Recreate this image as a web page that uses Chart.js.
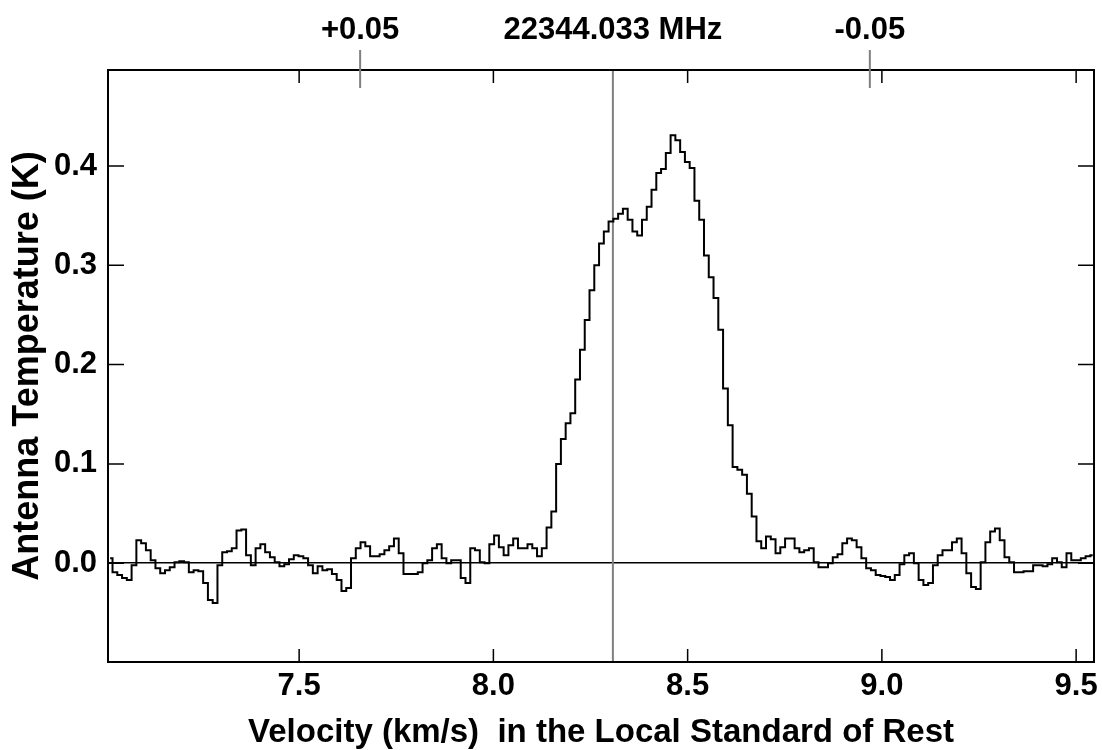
<!DOCTYPE html>
<html>
<head>
<meta charset="utf-8">
<title>Spectrum 22344.033 MHz</title>
<script src="https://cdn.jsdelivr.net/npm/chart.js@4.4.1/dist/chart.umd.min.js"></script>
<style>
  html, body { margin: 0; padding: 0; background: #fff; }
  #wrap { width: 1102px; height: 750px; }
</style>
</head>
<body>
<div id="wrap"><canvas id="spectrum" width="1102" height="750"></canvas></div>
<script>
// channel grid of the spectrum (km/s, LSR)
const velocityStart = 7.0135;
const channelWidth = 0.012278;

// antenna temperature per channel (K)
const antennaTemp = [
   0.005, -0.009, -0.012, -0.015, -0.017, -0.002,  0.023,  0.020,  0.013,  0.003,
  -0.005, -0.010, -0.007, -0.004,  0.001,  0.002,  0.001, -0.009, -0.007, -0.008,
  -0.020, -0.037, -0.040, -0.002,  0.011,  0.012,  0.015,  0.033,  0.034,  0.008,
  -0.002,  0.015,  0.019,  0.011,  0.006,  0.001, -0.003, -0.001,  0.004,  0.008,
   0.007,  0.005, -0.002, -0.010, -0.003, -0.007, -0.006, -0.011, -0.017, -0.028,
  -0.025,  0.005,  0.015,  0.021,  0.017,  0.007,  0.007,  0.009,  0.013,  0.017,
   0.025,  0.010, -0.011, -0.011, -0.011, -0.009,  0.000,  0.003,  0.015,  0.019,
   0.005,  0.000,  0.003,  0.003, -0.015, -0.020,  0.015,  0.013,  0.001,  0.000,
   0.019,  0.028,  0.016,  0.008,  0.018,  0.025,  0.015,  0.015,  0.019,  0.015,
   0.007,  0.015,  0.036,  0.052,  0.100,  0.125,  0.141,  0.151,  0.185,  0.215,
   0.245,  0.275,  0.300,  0.322,  0.334,  0.344,  0.347,  0.352,  0.357,  0.346,
   0.334,  0.330,  0.346,  0.359,  0.376,  0.393,  0.397,  0.413,  0.431,  0.426,
   0.414,  0.404,  0.398,  0.365,  0.346,  0.310,  0.288,  0.267,  0.235,  0.176,
   0.139,  0.097,  0.094,  0.089,  0.070,  0.047,  0.022,  0.015,  0.027,  0.024,
   0.010,  0.016,  0.025,  0.025,  0.015,  0.011,  0.013,  0.015,  0.001, -0.004,
  -0.004,  0.000,  0.006,  0.009,  0.020,  0.025,  0.023,  0.016,  0.005, -0.005,
  -0.007, -0.012, -0.013, -0.014, -0.017, -0.012, -0.001,  0.008,  0.010,  0.000,
  -0.017, -0.022, -0.020, -0.002,  0.008,  0.013,  0.013,  0.021,  0.025,  0.010,
  -0.010, -0.024, -0.026,  0.001,  0.021,  0.032,  0.035,  0.023,  0.006,  0.001,
  -0.009, -0.009, -0.008, -0.008, -0.002, -0.002, -0.003, -0.001,  0.005,  0.001,
  -0.004,  0.010,  0.003,  0.003,  0.005,  0.007,  0.008
];

const velocityTicks = [7.5, 8.0, 8.5, 9.0, 9.5];
const tempTicks = [0.0, 0.1, 0.2, 0.3, 0.4];

// top axis: frequency offsets (MHz) around the rest frequency
const freqTickVelocities = [7.657, 8.3076, 8.969];
const freqTickLabels = ['+0.05', '22344.033 MHz', '-0.05'];
const restVelocity = 8.3076;

const velMin = 7.008, velMax = 9.546;
const tempMin = -0.0995, tempMax = 0.4967;

const fontFamily = "'Liberation Sans', Arial, Helvetica, sans-serif";
const grey = '#808080';

const points = antennaTemp.map((t, i) => ({ x: velocityStart + i * channelWidth, y: t }));

// frame, inward ticks, rest-frequency marker
const framePlugin = {
  id: 'frame',
  beforeDatasetsDraw(chart) {
    const { ctx, chartArea: a, scales } = chart;
    const px = scales.x.getPixelForValue(restVelocity);
    ctx.save();
    ctx.strokeStyle = grey;
    ctx.lineWidth = 2;
    ctx.beginPath();
    ctx.moveTo(px, a.top);
    ctx.lineTo(px, a.bottom);
    ctx.stroke();
    ctx.restore();
  },
  afterDraw(chart) {
    const { ctx, chartArea: a, scales } = chart;
    ctx.save();
    ctx.strokeStyle = '#000';
    ctx.lineWidth = 2;
    ctx.strokeRect(a.left, a.top, a.right - a.left, a.bottom - a.top);

    ctx.lineWidth = 1.5;
    ctx.beginPath();
    velocityTicks.forEach(v => {
      const px = scales.x.getPixelForValue(v);
      ctx.moveTo(px, a.bottom); ctx.lineTo(px, a.bottom - 13);
      ctx.moveTo(px, a.top);    ctx.lineTo(px, a.top + 13);
    });
    tempTicks.forEach(t => {
      const py = scales.y.getPixelForValue(t);
      ctx.moveTo(a.left, py);  ctx.lineTo(a.left + 16, py);
      ctx.moveTo(a.right, py); ctx.lineTo(a.right - 16, py);
    });
    ctx.stroke();

    // +/-0.05 MHz marks cross the top axis
    ctx.strokeStyle = grey;
    ctx.lineWidth = 2;
    ctx.beginPath();
    freqTickVelocities.forEach(v => {
      if (v === restVelocity) return;
      const px = scales.x2.getPixelForValue(v);
      ctx.moveTo(px, a.top - 20); ctx.lineTo(px, a.top + 18);
    });
    ctx.stroke();
    ctx.restore();
  }
};

new Chart(document.getElementById('spectrum').getContext('2d'), {
  type: 'line',
  data: {
    datasets: [{
      data: points,
      stepped: 'middle',
      borderColor: '#000',
      borderWidth: 2,
      pointRadius: 0,
      fill: false,
    }]
  },
  options: {
    responsive: false,
    animation: false,
    layout: { padding: { left: 0, right: 8, top: 0, bottom: 0 } },
    plugins: {
      legend: { display: false },
      tooltip: { enabled: false }
    },
    scales: {
      x: {
        type: 'linear',
        position: 'bottom',
        min: velMin,
        max: velMax,
        afterBuildTicks: s => { s.ticks = velocityTicks.map(v => ({ value: v })); },
        afterFit: s => { s.height = 88; s.paddingLeft = 0; s.paddingRight = 0; },
        grid: { display: false, drawTicks: false },
        border: { display: false },
        ticks: {
          autoSkip: false,
          maxRotation: 0,
          padding: 6,
          color: '#000',
          font: { family: fontFamily, size: 31, weight: 'bold' },
          callback: v => v.toFixed(1)
        },
        title: {
          display: true,
          text: 'Velocity (km/s)  in the Local Standard of Rest',
          color: '#000',
          font: { family: fontFamily, size: 33, weight: 'bold' },
          padding: { top: 0, bottom: -3 }
        }
      },
      x2: {
        type: 'linear',
        position: 'top',
        min: velMin,
        max: velMax,
        afterBuildTicks: s => { s.ticks = freqTickVelocities.map(v => ({ value: v })); },
        afterFit: s => { s.height = 70; s.paddingLeft = 0; s.paddingRight = 0; },
        grid: { display: false, drawTicks: false },
        border: { display: false },
        ticks: {
          autoSkip: false,
          maxRotation: 0,
          padding: 21,
          color: '#000',
          font: { family: fontFamily, size: 31, weight: 'bold' },
          callback: (v, i) => freqTickLabels[i]
        }
      },
      y: {
        min: tempMin,
        max: tempMax,
        afterBuildTicks: s => { s.ticks = tempTicks.map(v => ({ value: v })); },
        afterFit: s => { s.width = 108; },
        grid: {
          drawTicks: false,
          color: c => (c.tick && c.tick.value === 0 ? '#000' : 'rgba(0,0,0,0)'),
          lineWidth: 1.5
        },
        border: { display: false },
        ticks: {
          padding: 11,
          color: '#000',
          font: { family: fontFamily, size: 31, weight: 'bold' },
          callback: v => v.toFixed(1)
        },
        title: {
          display: true,
          text: 'Antenna Temperature (K)',
          color: '#000',
          font: { family: fontFamily, size: 36, weight: 'bold' },
          padding: { top: 6, bottom: 0 }
        }
      }
    }
  },
  plugins: [framePlugin]
});
</script>
</body>
</html>
